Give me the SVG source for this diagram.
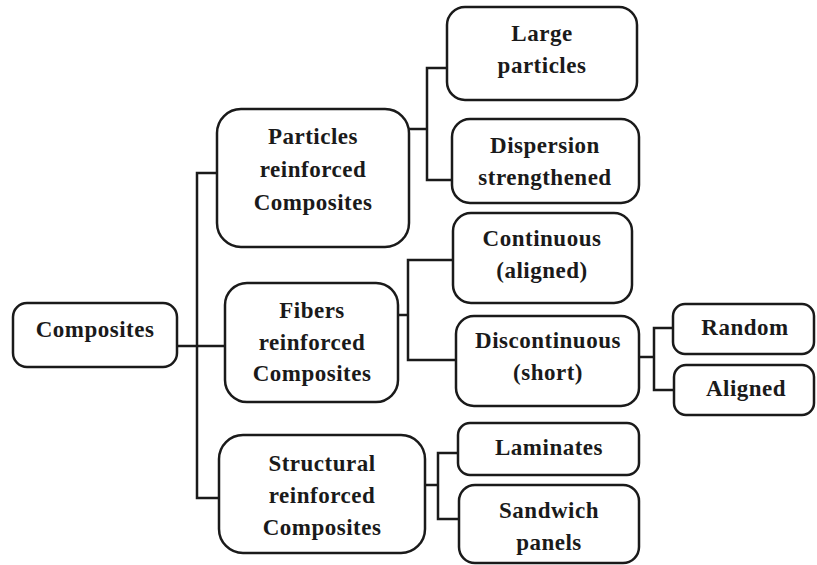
<svg xmlns="http://www.w3.org/2000/svg" width="817" height="565" viewBox="0 0 817 565">
<style>
.box{fill:#fff;stroke:#1a1a1a;stroke-width:2.5}
.t{font-family:"Liberation Serif","Times New Roman",serif;font-weight:bold;font-size:23px;letter-spacing:0.5px;fill:#1a1a1a;text-anchor:middle}
.c{fill:none;stroke:#1a1a1a;stroke-width:2.5}
</style>
<rect width="817" height="565" fill="#fff"/>
<g id="connectors" class="c">
<path d="M177,346 H224"/>
<path d="M217,173 H197 V498 H219"/>
<path d="M409,129 H427"/>
<path d="M447,68 H427 V180 H452"/>
<path d="M398,315 H408"/>
<path d="M453,260 H408 V360 H456"/>
<path d="M639,357 H654"/>
<path d="M673,328 H654 V390 H674"/>
<path d="M425,485 H438"/>
<path d="M458,453 H438 V519 H459"/>
</g>
<g id="n-composites"><rect class="box" x="13" y="303" width="164" height="64" rx="14"/><text class="t" x="95" y="337">Composites</text></g>
<g id="n-particles"><rect class="box" x="217" y="109" width="192" height="138" rx="24"/><text class="t" x="313" y="144">Particles</text><text class="t" x="313" y="177">reinforced</text><text class="t" x="313" y="210">Composites</text></g>
<g id="n-fibers"><rect class="box" x="225" y="283" width="173" height="119" rx="22"/><text class="t" x="312" y="318">Fibers</text><text class="t" x="312" y="350">reinforced</text><text class="t" x="312" y="381">Composites</text></g>
<g id="n-structural"><rect class="box" x="219" y="435" width="206" height="118" rx="24"/><text class="t" x="322" y="471">Structural</text><text class="t" x="322" y="503">reinforced</text><text class="t" x="322" y="535">Composites</text></g>
<g id="n-large"><rect class="box" x="447" y="7" width="190" height="93" rx="18"/><text class="t" x="542" y="41">Large</text><text class="t" x="542" y="73">particles</text></g>
<g id="n-dispersion"><rect class="box" x="452" y="119" width="187" height="84" rx="18"/><text class="t" x="545" y="153">Dispersion</text><text class="t" x="545" y="185">strengthened</text></g>
<g id="n-continuous"><rect class="box" x="453" y="213" width="179" height="90" rx="18"/><text class="t" x="542" y="246">Continuous</text><text class="t" x="542" y="278">(aligned)</text></g>
<g id="n-discontinuous"><rect class="box" x="456" y="316" width="183" height="90" rx="18"/><text class="t" x="548" y="348">Discontinuous</text><text class="t" x="548" y="380">(short)</text></g>
<g id="n-random"><rect class="box" x="673" y="304" width="141" height="50" rx="12"/><text class="t" x="745" y="335">Random</text></g>
<g id="n-aligned"><rect class="box" x="674" y="365" width="140" height="50" rx="12"/><text class="t" x="746" y="396">Aligned</text></g>
<g id="n-laminates"><rect class="box" x="458" y="423" width="181" height="52" rx="12"/><text class="t" x="549" y="455">Laminates</text></g>
<g id="n-sandwich"><rect class="box" x="459" y="485" width="180" height="78" rx="16"/><text class="t" x="549" y="518">Sandwich</text><text class="t" x="549" y="550">panels</text></g>
</svg>
